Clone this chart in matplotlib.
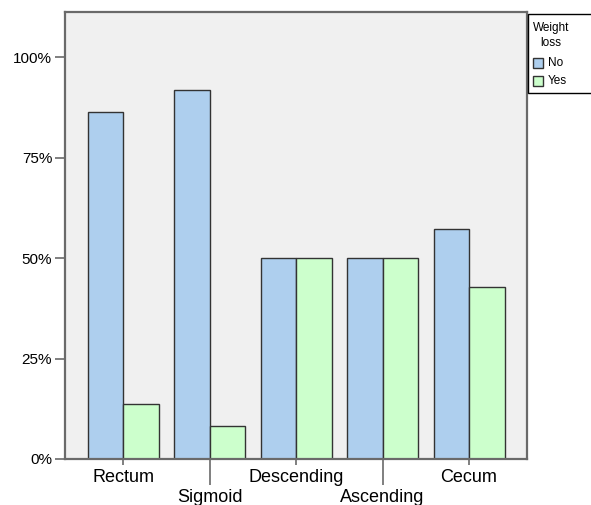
import matplotlib.pyplot as plt
from matplotlib.patches import Rectangle
import numpy as np

plt.rcParams['font.family'] = ['Liberation Sans', 'DejaVu Sans']

sites = ['Rectum', 'Sigmoid', 'Descending', 'Ascending', 'Cecum']
no_pct = [86.4, 91.8, 50.0, 50.0, 57.1]
yes_pct = [13.6, 8.2, 50.0, 50.0, 42.9]
y_ticks = [0, 25, 50, 75, 100]
y_labels = ['0%', '25%', '50%', '75%', '100%']

c_no = '#aecfee'
c_yes = '#ccffcc'
spine_c = '#6a6a6a'

W, H = 591, 505
fig = plt.figure(figsize=(W / 100, H / 100), dpi=100)
ax = fig.add_axes([65 / W, (H - 459) / H, (527 - 65) / W, (459 - 12) / H])
ax.set_facecolor('#f0f0f0')

x = np.arange(len(sites))
bw = 0.411
ax.bar(x - bw / 2, no_pct, bw, color=c_no, edgecolor='#333333', linewidth=1.0, zorder=2)
ax.bar(x + bw / 2, yes_pct, bw, color=c_yes, edgecolor='#333333', linewidth=1.0, zorder=2)

ax.set_xlim(-0.677, 4.671)
ax.set_ylim(0, 111.2)

for s in ax.spines.values():
    s.set_color(spine_c)
    s.set_linewidth(1.6)

ax.set_yticks(y_ticks)
ax.set_yticklabels(y_labels)
ax.tick_params(axis='y', length=7.2, width=1.2, color=spine_c, pad=2, labelsize=11)

# staggered category labels: even ones as major ticks, odd ones as minor
ax.set_xticks(x[::2])
ax.set_xticklabels(sites[::2])
ax.set_xticks(x[1::2], minor=True)
ax.set_xticklabels(sites[1::2], minor=True)
ax.tick_params(axis='x', which='major', length=4.5, width=1.2, color=spine_c, pad=2.5, labelsize=13)
ax.tick_params(axis='x', which='minor', length=19, width=1.2, color=spine_c, pad=2.5, labelsize=13)

# legend box
fig.add_artist(Rectangle((528 / W, 1 - 93 / H), 80 / W, (93 - 14) / H,
                         transform=fig.transFigure, facecolor='white',
                         edgecolor='black', linewidth=1.0, clip_on=False))
fig.text(551 / W, 1 - 28 / H, 'Weight', ha='center', va='center', fontsize=8.5)
fig.text(551 / W, 1 - 43 / H, 'loss', ha='center', va='center', fontsize=8.5)
for lab, col, yc in [('No', c_no, 63), ('Yes', c_yes, 81)]:
    fig.add_artist(Rectangle((533 / W, 1 - (yc + 5) / H), 10 / W, 10 / H,
                             transform=fig.transFigure, facecolor=col,
                             edgecolor='#333333', linewidth=1.0))
    fig.text(548 / W, 1 - yc / H, lab, ha='left', va='center', fontsize=8.5)

fig.savefig('out.png', dpi=100)
